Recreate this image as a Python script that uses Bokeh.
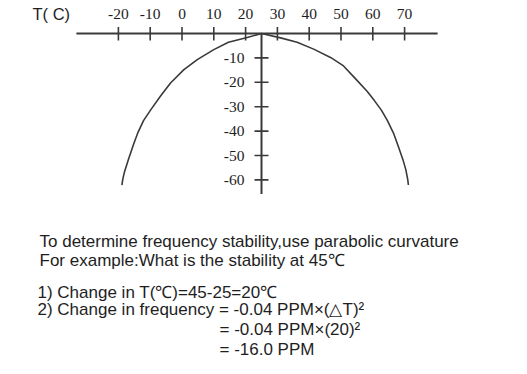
from bokeh.plotting import figure
from bokeh.models import Range1d, Label
from bokeh.core.properties import value
from bokeh.embed import file_html
from bokeh.resources import INLINE

# ---------------- data ----------------
x_ticks = [-20, -10, 0, 10, 20, 30, 40, 50, 60, 70]
x_tick_labels = ["-20", "-10", "0", "10", "20", "30", "40", "50", "60", "70"]
y_ticks = [-10, -20, -30, -40, -50, -60]
y_tick_labels = ["-10", "-20", "-30", "-40", "-50", "-60"]
turnover_T = 25
axis_title = "T( C)"

# points (temperature in C, deviation in PPM)
curve_T = [-18.9, -18.6, -18.1, -16.8, -15.2, -13.8, -12.1, -9.9, -6.8, -3.6, 0.6, 4.8,
           10.0, 14.6, 20.5,
           25.0,
           31.0, 36.2, 41.4, 46.7, 50.8, 54.6, 58.2, 60.5, 62.7, 64.6, 66.5, 68.2, 69.5,
           70.4, 71.0, 71.2]
curve_ppm = [-62.1, -59.6, -56.8, -51.4, -45.3, -40.4, -35.7, -31.4, -25.7, -20.3, -14.8, -10.7,
             -6.6, -3.6, -1.6,
             0.0,
             -1.8, -3.6, -6.4, -9.8, -13.3, -18.6, -23.7, -27.5, -31.4, -35.7, -40.8, -46.9, -51.8,
             -55.9, -60.0, -62.1]

note_lines = [
    "To determine frequency stability,use parabolic curvature",
    "For example:What is the stability at 45\u2103",
    "1) Change in T(\u2103)=45-25=20\u2103",
    "2) Change in frequency = -0.04 PPM\u00d7(\u25b3T)\u00b2",
    "= -0.04 PPM\u00d7(20)\u00b2",
    "= -16.0 PPM",
]

# ---------------- layout (pixel geometry) ----------------
W, H = 527, 374
X0, SX = 181.5, 3.18   # pixel x of T=0, pixels per degree
Y0, SY = 33.0, 2.44    # pixel y of 0 PPM, pixels per PPM

def px_x(px):
    return (px - X0) / SX

def px_y(py):
    return (Y0 - py) / SY

def dx(n):
    return n / SX

def dy(n):
    return n / SY

INK = "#3a3a3a"
TXT = "#1e1e1e"

p = figure(width=W, height=H, output_backend="svg", toolbar_location=None,
           x_range=Range1d(px_x(0), px_x(W)), y_range=Range1d(px_y(H), px_y(0)),
           x_axis_location=None, y_axis_location=None,
           min_border=0, min_border_left=0, min_border_right=0,
           min_border_top=0, min_border_bottom=0)
p.grid.visible = False
p.outline_line_color = None
p.background_fill_color = "white"
p.border_fill_color = "white"

# horizontal temperature axis
p.segment(x0=[min(x_ticks) - dx(42)], y0=[0], x1=[max(x_ticks) + dx(33)], y1=[0],
          line_color=INK, line_width=2)
p.segment(x0=x_ticks, y0=[dy(6.5)] * len(x_ticks), x1=x_ticks, y1=[-dy(7)] * len(x_ticks),
          line_color=INK, line_width=1.6)
p.text(x=x_ticks, y=[dy(20)] * len(x_ticks), text=x_tick_labels,
       text_align="center", text_baseline="middle",
       text_font=value("Liberation Serif"), text_font_size="15.5px", text_color=TXT)

# vertical PPM axis at the turnover temperature
p.segment(x0=[turnover_T], y0=[0], x1=[turnover_T], y1=[min(y_ticks) - dy(14)],
          line_color=INK, line_width=2)
p.segment(x0=[turnover_T - dx(7)] * len(y_ticks), y0=y_ticks,
          x1=[turnover_T + dx(7)] * len(y_ticks), y1=y_ticks,
          line_color=INK, line_width=1.6)
p.text(x=[turnover_T - dx(17)] * len(y_ticks), y=y_ticks, text=y_tick_labels,
       text_align="right", text_baseline="middle",
       text_font=value("Liberation Serif"), text_font_size="15.5px", text_color=TXT)

# curve
p.line(curve_T, curve_ppm, line_color=INK, line_width=1.6, line_join="round")

# axis title
p.add_layout(Label(x=px_x(32), y=px_y(13), text=axis_title, text_align="left",
                   text_baseline="middle", text_font="Liberation Sans",
                   text_font_size="16.5px", text_color=TXT))

# explanatory notes
note_pos = [(39, 241), (39, 260), (37, 292), (37, 309), (219, 329), (219, 349)]
for line, (lx, ly) in zip(note_lines, note_pos):
    p.add_layout(Label(x=px_x(lx), y=px_y(ly), text=line, text_align="left",
                       text_baseline="middle", text_font="Liberation Sans",
                       text_font_size="17px", text_color=TXT))

open("out.html", "w").write(file_html(p, INLINE))
